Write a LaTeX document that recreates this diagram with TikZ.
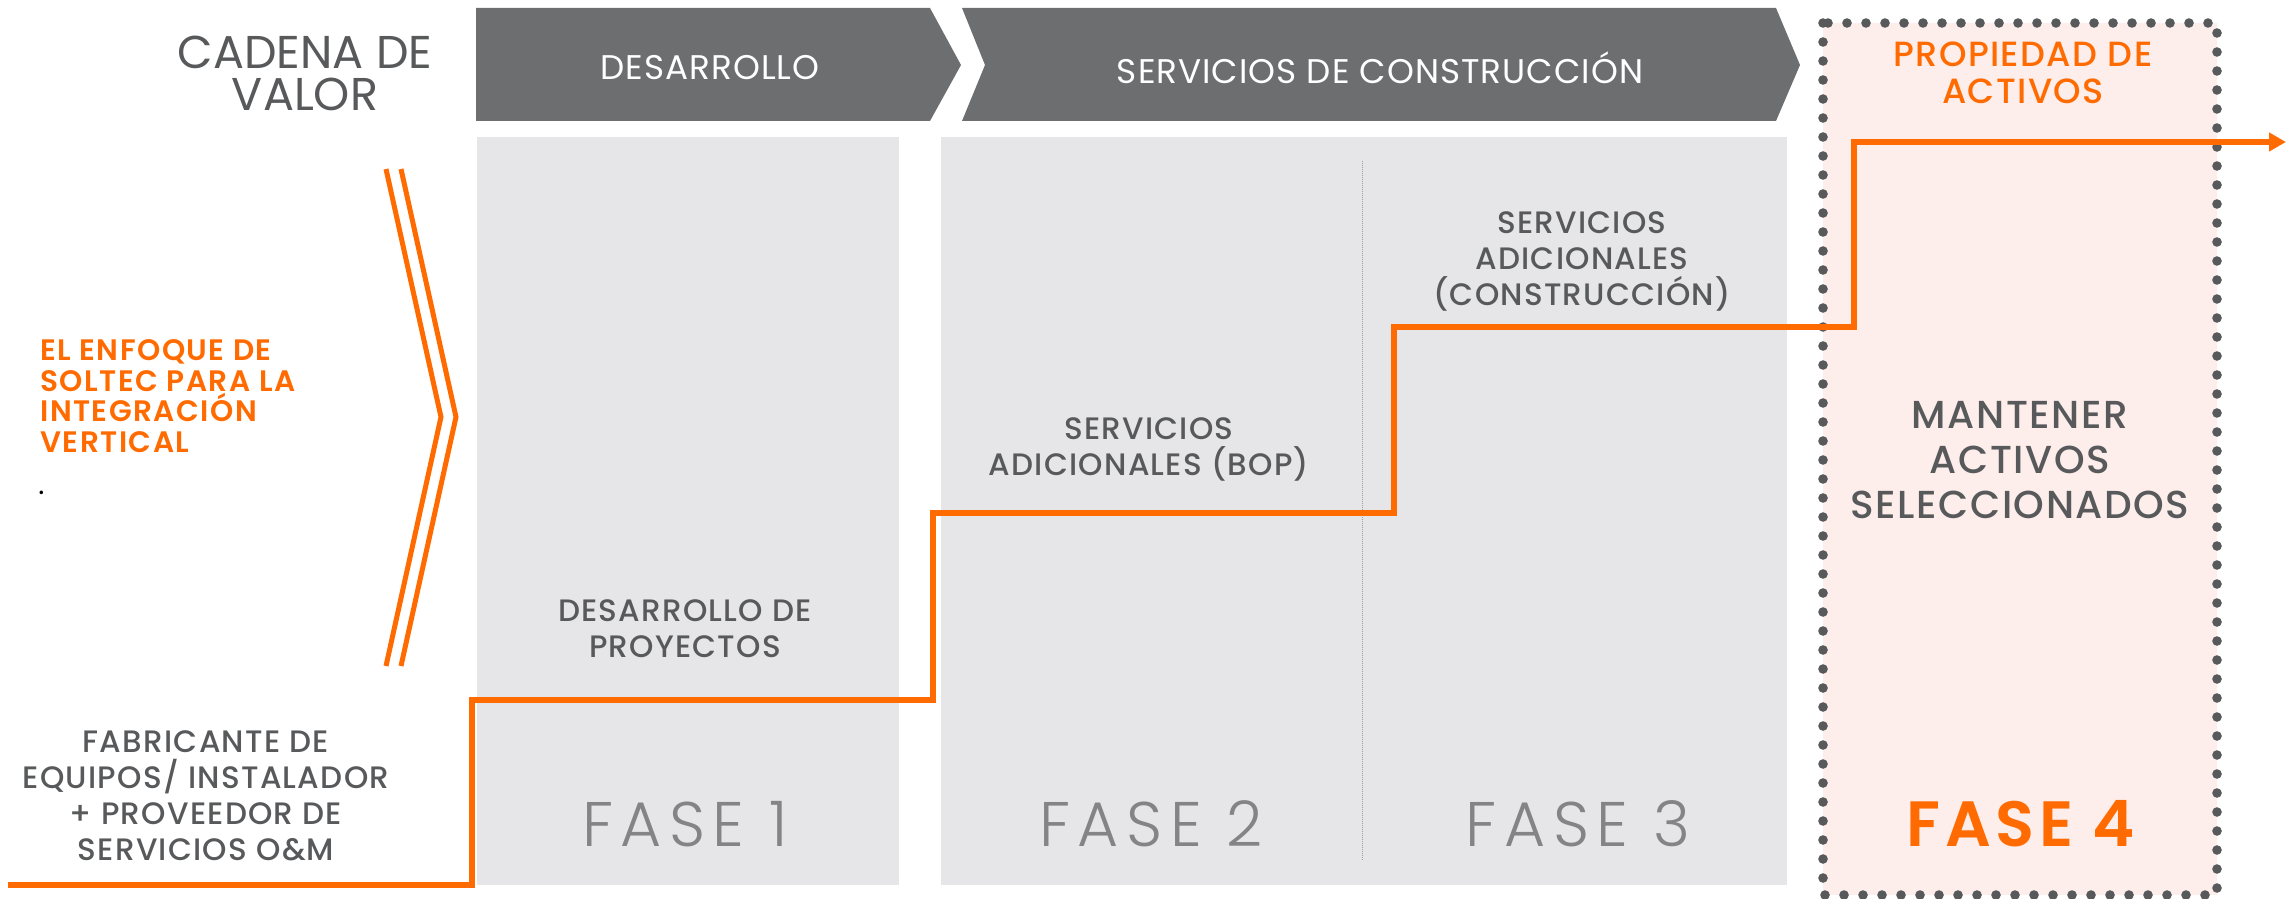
\documentclass[tikz,border=0pt]{standalone}
\usepackage{fontspec}
\setmainfont{Poppins}
\newfontfamily\thinfont{Poppins Light}[LetterSpace=12]
\newfontfamily\medfont{Poppins Medium}
\newfontfamily\bodyfont{Poppins Medium}[LetterSpace=4]
\newfontfamily\headfont{Poppins}[LetterSpace=3]
\newfontfamily\semifont{Poppins SemiBold}[LetterSpace=7]
\newfontfamily\wideboldfont{Poppins SemiBold}[LetterSpace=5]
\usetikzlibrary{positioning,arrows.meta,calc}
\tikzset{>={Triangle[length=8.5pt,width=9pt]}}
\definecolor{soltec}{HTML}{FF6B00}
\definecolor{headgray}{HTML}{6D6E70}
\definecolor{phasegray}{HTML}{E6E6E8}
\definecolor{pinkbg}{HTML}{FDEDEB}
\definecolor{txtgray}{HTML}{58595B}
\definecolor{fasegray}{HTML}{848486}

\begin{document}
\begin{tikzpicture}[x=0.5pt, y=-0.5pt,
    header/.style={fill=headgray, draw=none},
    phase/.style={fill=phasegray, draw=none},
    headtext/.style={text=white, inner sep=0pt, font=\headfont\fontsize{17.1}{20}\selectfont},
    body/.style={text=txtgray, align=center, inner sep=0pt, font=\bodyfont\fontsize{15.5}{18}\selectfont},
    fasetext/.style={text=fasegray, inner sep=0pt, font=\thinfont\fontsize{31.5}{36}\selectfont},
    stepline/.style={draw=soltec, line width=3pt},
    dotframe/.style={draw=txtgray, line width=4.8pt, line cap=round, dash pattern=on 0pt off 9.5pt}]
  \useasboundingbox (0,0) rectangle (2288,899);

  % value chain headers
  \fill[header] (476,8) -- (930,8) -- (961,65) -- (930,121) -- (476,121) -- cycle;
  \fill[header] (962,8) -- (1776,8) -- (1800,65) -- (1776,121) -- (962,121) -- (985,65) -- cycle;
  \node[text=txtgray, align=center, inner sep=0pt, font=\fontsize{23}{21}\selectfont] (cadena) at (305,73) {CADENA DE\\VALOR};
  \node[headtext] (desarrollo) at (710,68) {DESARROLLO};
  \node[headtext] (servicios) at (1380,68) {SERVICIOS DE CONSTRUCCIÓN};

  % phase boxes
  \fill[phase] (477,137) rectangle (899,885);
  \fill[phase] (941,137) rectangle (1787,885);
  \fill[pinkbg] (1823,23) rectangle (2217,895);
  \draw[dotframe] (1823,23) rectangle (2217,895);
  \draw[fasegray!80, line width=0.5pt, dash pattern=on 0.5pt off 0.5pt] (1362,161) -- (1362,860);

  \node[text=soltec, align=center, inner sep=0pt, font=\bodyfont\fontsize{17.5}{18.5}\selectfont] (propiedad) at (2023,73) {PROPIEDAD DE\\ACTIVOS};

  % left side
  \node[text=soltec, align=left, anchor=west, inner sep=0pt, font=\wideboldfont\fontsize{14.8}{15.25}\selectfont] (enfoque) at (40,396)
    {EL ENFOQUE DE\\SOLTEC PARA LA\\INTEGRACIÓN\\VERTICAL};
  \node[anchor=west, inner sep=0pt, font=\fontsize{14.5}{15}\selectfont] (punto) at (38,493) {.};
  \draw[soltec, line width=2.5pt] (386,169) -- (441,417) -- (386,666);
  \draw[soltec, line width=2.5pt] (401,169) -- (456,417) -- (401,666);
  \node[body] (fabricante) at (206,796) {FABRICANTE DE\\EQUIPOS/ INSTALADOR\\+ PROVEEDOR DE\\SERVICIOS O\&M};

  % phase texts
  \node[body] (proyectos) at (685,629) {DESARROLLO DE\\PROYECTOS};
  \node[body] (bop) at (1149,449) {SERVICIOS\\ADICIONALES (BOP)};
  \node[body] (construccion) at (1582,261) {SERVICIOS\\ADICIONALES\\(CONSTRUCCIÓN)};
  \node[text=txtgray, align=center, inner sep=0pt, font=\bodyfont\fontsize{19.5}{22.5}\selectfont] (mantener) at (2020,460)
    {MANTENER\\ACTIVOS\\SELECCIONADOS};

  \node[fasetext] (fase1) at (685,824) {FASE 1};
  \node[fasetext] (fase2) at (1151,824) {FASE 2};
  \node[fasetext] (fase3) at (1578,824) {FASE 3};
  \node[text=soltec, inner sep=0pt, font=\semifont\fontsize{32}{36}\selectfont] (fase4) at (2021,824) {FASE 4};

  % integration steps
  \coordinate (s0) at (8,885);
  \coordinate (s1) at (472,700);
  \coordinate (s2) at (933,513);
  \coordinate (s3) at (1394,327);
  \coordinate (s4) at (1854,142);
  \coordinate (s5) at (2286,142);
  \draw[stepline, ->] (s0) -| (s1) -| (s2) -| (s3) -| (s4) -- (s5);
\end{tikzpicture}
\end{document}
